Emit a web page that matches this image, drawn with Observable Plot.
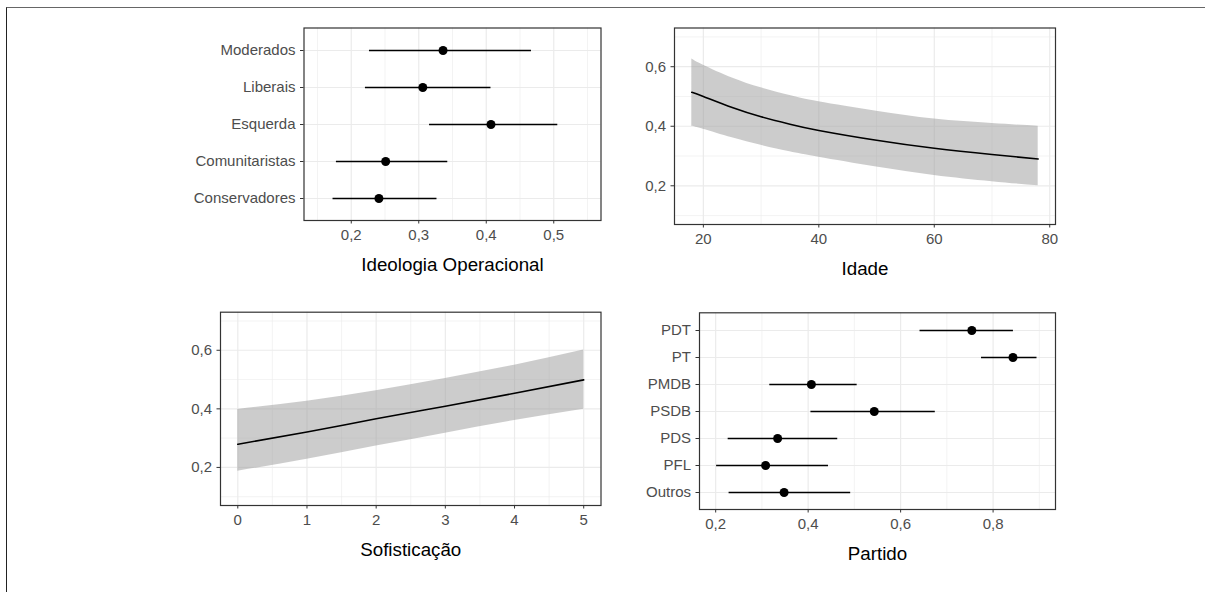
<!DOCTYPE html>
<html>
<head>
<meta charset="utf-8">
<script src="https://cdn.jsdelivr.net/npm/d3@7"></script>
<script src="https://cdn.jsdelivr.net/npm/@observablehq/plot@0.6"></script>
<style>
html, body { margin: 0; padding: 0; background: #fff; }
#wrap { position: relative; width: 1205px; height: 592px; overflow: hidden; background: #fff; font-family: "Liberation Sans", Arial, sans-serif; }
#wrap svg { position: absolute; left: 0; top: 0; }
#border { position: absolute; left: 5.5px; top: 7px; right: -4px; bottom: -4px; border-top: 1px solid #666; border-left: 1px solid #222; }
</style>
</head>
<body>
<div id="wrap"><div id="border"></div></div>
<script>
// ---- Ideologia Operacional ----
const ideoCats = ["Moderados", "Liberais", "Esquerda", "Comunitaristas", "Conservadores"];
const ideoEst = [0.336, 0.306, 0.407, 0.251, 0.241];
const ideoLo  = [0.227, 0.221, 0.316, 0.178, 0.173];
const ideoHi  = [0.467, 0.407, 0.506, 0.343, 0.327];
const ideoTicks = [0.2, 0.3, 0.4, 0.5];
const ideoTickLabels = ["0,2", "0,3", "0,4", "0,5"];
const ideoMinor = [0.15, 0.25, 0.35, 0.45, 0.55];

// ---- Idade ----
const idadeX   = [18, 20, 25, 30, 35, 40, 50, 60, 70, 78];
const idadeFit = [0.514, 0.500, 0.463, 0.432, 0.407, 0.386, 0.353, 0.326, 0.305, 0.290];
const idadeHi  = [0.626, 0.605, 0.562, 0.529, 0.503, 0.482, 0.450, 0.424, 0.409, 0.400];
const idadeLo  = [0.400, 0.390, 0.361, 0.336, 0.314, 0.296, 0.263, 0.235, 0.214, 0.200];
const idadeTicks = [20, 40, 60, 80];
const idadeTickLabels = ["20", "40", "60", "80"];
const idadeMinor = [30, 50, 70];

// ---- Sofisticação ----
const sofX   = [0, 1, 2, 3, 4, 5];
const sofFit = [0.279, 0.321, 0.366, 0.409, 0.453, 0.499];
const sofHi  = [0.398, 0.426, 0.462, 0.504, 0.549, 0.601];
const sofLo  = [0.187, 0.228, 0.273, 0.317, 0.360, 0.399];
const sofTicks = [0, 1, 2, 3, 4, 5];
const sofTickLabels = ["0", "1", "2", "3", "4", "5"];
const sofMinor = [0.5, 1.5, 2.5, 3.5, 4.5];

// ---- Partido ----
const partyCats = ["PDT", "PT", "PMDB", "PSDB", "PDS", "PFL", "Outros"];
const partyEst = [0.754, 0.843, 0.407, 0.543, 0.334, 0.308, 0.348];
const partyLo  = [0.642, 0.775, 0.317, 0.406, 0.227, 0.202, 0.229];
const partyHi  = [0.844, 0.895, 0.506, 0.675, 0.464, 0.444, 0.492];
const partyTicks = [0.2, 0.4, 0.6, 0.8];
const partyTickLabels = ["0,2", "0,4", "0,6", "0,8"];
const partyMinor = [0.3, 0.5, 0.7, 0.9];

// ---- shared probability y axis ----
const probTicks = [0.2, 0.4, 0.6];
const probTickLabels = ["0,2", "0,4", "0,6"];
const probMinor = [0.1, 0.3, 0.5, 0.7];

const W = 1205, H = 592;
const FONT = "Liberation Sans, Arial, Helvetica, sans-serif";
const GRID = "#ebebeb";
const fmt = (ticks, labels) => d => labels[ticks.indexOf(d)];

function panel(box, xScale, yScale, marks) {
  return Plot.plot({
    width: W, height: H,
    marginLeft: box.L, marginRight: W - box.R, marginTop: box.T, marginBottom: H - box.B,
    x: xScale, y: yScale,
    style: { fontFamily: FONT, background: "transparent", overflow: "visible" },
    marks
  });
}

function xAxis(ticks, labels) {
  return Plot.axisX(ticks, { tickFormat: fmt(ticks, labels), tickSize: 3.5, tickPadding: 5.5, fontSize: 15, fill: "#4d4d4d", stroke: "#333", label: null });
}
function yAxisNum(ticks, labels) {
  return Plot.axisY(ticks, { tickFormat: fmt(ticks, labels), tickSize: 3.5, tickPadding: 5, fontSize: 15, fill: "#4d4d4d", stroke: "#333", label: null });
}
function yAxisCat(cats) {
  return Plot.axisY(cats, { tickSize: 3.5, tickPadding: 5, fontSize: 15, fill: "#4d4d4d", stroke: "#333", label: null });
}
function title(t) {
  return Plot.text([t], { text: d => d, frameAnchor: "bottom", dy: 44, fontSize: 18.75, fill: "#000", lineAnchor: "middle" });
}
function frame() { return Plot.frame({ stroke: "#333", strokeWidth: 1.2 }); }

const wrap = document.getElementById("wrap");

// Panel 1: Ideologia Operacional
const ideoData = ideoCats.map((c, i) => ({ cat: c, est: ideoEst[i], lo: ideoLo[i], hi: ideoHi[i] }));
wrap.appendChild(panel(
  { L: 303.5, R: 600.5, T: 27.5, B: 220 },
  { domain: [0.13, 0.57] },
  { type: "point", domain: ideoCats, padding: 0.6 },
  [
    Plot.ruleX(ideoMinor, { stroke: GRID, strokeWidth: 0.6 }),
    Plot.ruleX(ideoTicks, { stroke: GRID, strokeWidth: 1.2 }),
    Plot.ruleY(ideoCats, { stroke: GRID, strokeWidth: 1.2 }),
    Plot.ruleY(ideoData, { y: "cat", x1: "lo", x2: "hi", stroke: "#000", strokeWidth: 1.6 }),
    Plot.dot(ideoData, { x: "est", y: "cat", r: 4.5, fill: "#000", stroke: "none" }),
    frame(),
    xAxis(ideoTicks, ideoTickLabels),
    yAxisCat(ideoCats),
    title("Ideologia Operacional")
  ]
));

// Panel 2: Idade
const idadeData = idadeX.map((x, i) => ({ x, fit: idadeFit[i], lo: idadeLo[i], hi: idadeHi[i] }));
wrap.appendChild(panel(
  { L: 674, R: 1055, T: 27.5, B: 224 },
  { domain: [15, 81] },
  { domain: [0.07, 0.73] },
  [
    Plot.ruleX(idadeMinor, { stroke: GRID, strokeWidth: 0.6 }),
    Plot.ruleY(probMinor, { stroke: GRID, strokeWidth: 0.6 }),
    Plot.ruleX(idadeTicks, { stroke: GRID, strokeWidth: 1.2 }),
    Plot.ruleY(probTicks, { stroke: GRID, strokeWidth: 1.2 }),
    Plot.areaY(idadeData, { x: "x", y1: "lo", y2: "hi", fill: "#999", fillOpacity: 0.5, curve: "natural" }),
    Plot.lineY(idadeData, { x: "x", y: "fit", stroke: "#000", strokeWidth: 1.6, curve: "natural" }),
    frame(),
    xAxis(idadeTicks, idadeTickLabels),
    yAxisNum(probTicks, probTickLabels),
    title("Idade")
  ]
));

// Panel 3: Sofisticação
const sofData = sofX.map((x, i) => ({ x, fit: sofFit[i], lo: sofLo[i], hi: sofHi[i] }));
wrap.appendChild(panel(
  { L: 220, R: 600.5, T: 311.7, B: 505 },
  { domain: [-0.25, 5.25] },
  { domain: [0.07, 0.73] },
  [
    Plot.ruleX(sofMinor, { stroke: GRID, strokeWidth: 0.6 }),
    Plot.ruleY(probMinor, { stroke: GRID, strokeWidth: 0.6 }),
    Plot.ruleX(sofTicks, { stroke: GRID, strokeWidth: 1.2 }),
    Plot.ruleY(probTicks, { stroke: GRID, strokeWidth: 1.2 }),
    Plot.areaY(sofData, { x: "x", y1: "lo", y2: "hi", fill: "#999", fillOpacity: 0.5, curve: "natural" }),
    Plot.lineY(sofData, { x: "x", y: "fit", stroke: "#000", strokeWidth: 1.6, curve: "natural" }),
    frame(),
    xAxis(sofTicks, sofTickLabels),
    yAxisNum(probTicks, probTickLabels),
    title("Sofisticação")
  ]
));

// Panel 4: Partido
const partyData = partyCats.map((c, i) => ({ cat: c, est: partyEst[i], lo: partyLo[i], hi: partyHi[i] }));
wrap.appendChild(panel(
  { L: 699, R: 1055, T: 312.3, B: 509 },
  { domain: [0.165, 0.935] },
  { type: "point", domain: partyCats, padding: 0.6 },
  [
    Plot.ruleX(partyMinor, { stroke: GRID, strokeWidth: 0.6 }),
    Plot.ruleX(partyTicks, { stroke: GRID, strokeWidth: 1.2 }),
    Plot.ruleY(partyCats, { stroke: GRID, strokeWidth: 1.2 }),
    Plot.ruleY(partyData, { y: "cat", x1: "lo", x2: "hi", stroke: "#000", strokeWidth: 1.6 }),
    Plot.dot(partyData, { x: "est", y: "cat", r: 4.5, fill: "#000", stroke: "none" }),
    frame(),
    xAxis(partyTicks, partyTickLabels),
    yAxisCat(partyCats),
    title("Partido")
  ]
));
</script>
</body>
</html>
